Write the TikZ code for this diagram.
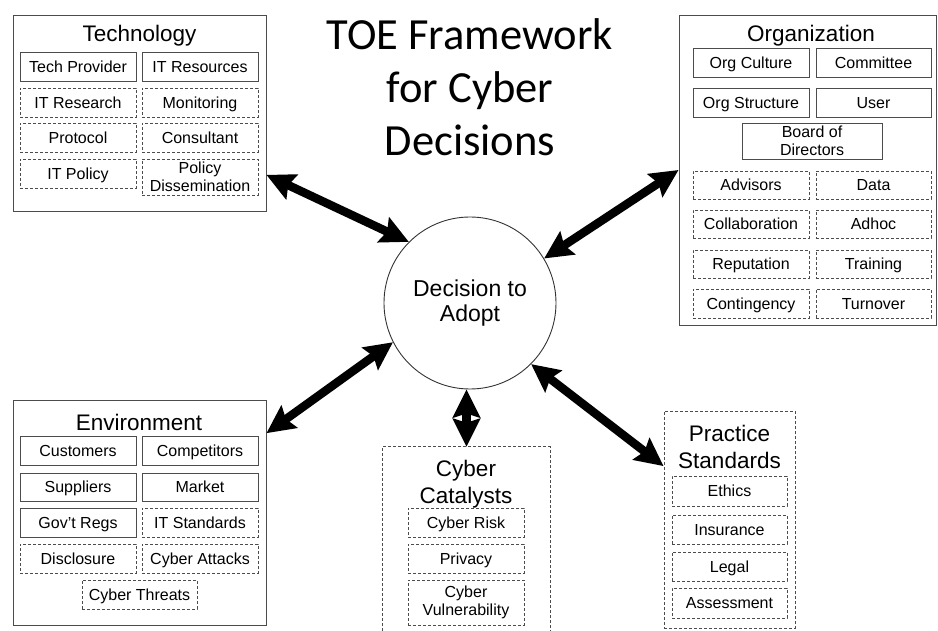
\documentclass[tikz,border=0pt]{standalone}
\usepackage{fontspec}
\setmainfont{Liberation Sans}
\newfontfamily\titlefont{Carlito}
\usetikzlibrary{arrows.meta}
\begin{document}
\begin{tikzpicture}[x=1pt,y=-1pt,
  boxbase/.style={draw=black!70, line width=0.9pt, inner sep=0pt, align=center,
    font=\fontsize{16}{18.5}\selectfont, minimum height=29pt, minimum width=116pt},
  sbox/.style={boxbase, text height=11.5pt, text depth=0pt},
  dbox/.style={sbox, dash pattern=on 3pt off 2pt},
  sboxm/.style={boxbase},
  dboxm/.style={boxbase, dash pattern=on 3pt off 2pt},
  container/.style={draw=black!70, line width=0.9pt, inner sep=0pt},
  dcontainer/.style={container, dash pattern=on 3pt off 2pt},
  sectitle/.style={font=\fontsize{22.5}{27}\selectfont, align=center, inner sep=0pt},
  bigarrow/.style={line width=8.5pt,
    {Stealth[length=28pt,width=27pt,inset=4pt]}-{Stealth[length=28pt,width=27pt,inset=4pt]}},
]
\useasboundingbox (0,0) rectangle (938,631);

% Title
\node[font=\titlefont\fontsize{44.5}{53}\selectfont, align=center, inner sep=0pt] (title) at (470,87) {TOE Framework\\for Cyber\\Decisions};

% Center
\node[draw=black!80, line width=0.9pt, circle, minimum size=172pt, inner sep=0pt, align=center,
  font=\fontsize{23}{25}\selectfont] (dec) at (470,303) {Decision to\\Adopt};

% Technology
\node[container, minimum width=253pt, minimum height=196pt] (tech) at (139.5,113) {};
\node[sectitle] (techt) at (139.5,36) {Technology};
\node[sbox] (t1) at (78,66.5) {Tech Provider};
\node[sbox] (t2) at (200,66.5) {IT Resources};
\node[dbox] (t3) at (78,102.5) {IT Research};
\node[dbox] (t4) at (200,102.5) {Monitoring};
\node[dbox] (t5) at (78,137.5) {Protocol};
\node[dbox] (t6) at (200,137.5) {Consultant};
\node[dbox] (t7) at (78,173.5) {IT Policy};
\node[dboxm, minimum height=36pt] (t8) at (200,177) {Policy\\Dissemination};

% Organization
\node[container, minimum width=257pt, minimum height=310pt] (org) at (807.5,170) {};
\node[sectitle] (orgt) at (811,36) {Organization};
\node[sbox] (o1) at (751,62.5) {Org Culture};
\node[sbox, minimum width=115pt] (o2) at (873.5,62.5) {Committee};
\node[sbox] (o3) at (751,102.5) {Org Structure};
\node[sbox, minimum width=115pt] (o4) at (873.5,102.5) {User};
\node[sboxm, minimum width=140pt, minimum height=36pt] (o5) at (812,141) {Board of\\Directors};
\node[dbox, minimum height=28pt] (o6) at (751,185) {Advisors};
\node[dbox, minimum height=28pt, minimum width=115pt] (o7) at (873.5,185) {Data};
\node[dbox, minimum height=28pt] (o8) at (751,224) {Collaboration};
\node[dbox, minimum height=28pt, minimum width=115pt] (o9) at (873.5,224) {Adhoc};
\node[dbox, minimum height=28pt] (o10) at (751,264) {Reputation};
\node[dbox, minimum height=28pt, minimum width=115pt] (o11) at (873.5,264) {Training};
\node[dbox] (o12) at (751,303.5) {Contingency};
\node[dbox, minimum width=115pt] (o13) at (873.5,303.5) {Turnover};

% Environment
\node[container, minimum width=253pt, minimum height=225pt] (env) at (139.5,512.5) {};
\node[sectitle] (envt) at (139,422) {Environment};
\node[sbox] (e1) at (78,450.5) {Customers};
\node[sbox] (e2) at (200,450.5) {Competitors};
\node[sbox, minimum height=28pt] (e3) at (78,487) {Suppliers};
\node[sbox, minimum height=28pt] (e4) at (200,487) {Market};
\node[sbox] (e5) at (78,522.5) {Gov't Regs};
\node[dbox] (e6) at (200,522.5) {IT Standards};
\node[dbox] (e7) at (78,558.5) {Disclosure};
\node[dbox] (e8) at (200,558.5) {Cyber Attacks};
\node[dbox, minimum width=115pt] (e9) at (139.5,594.5) {Cyber Threats};

% Cyber Catalysts
\node[inner sep=0pt, minimum width=167pt, minimum height=184pt] (cc) at (466.5,539) {};
\draw[dcontainer] (cc.south west) |- (cc.north east) -- (cc.south east);
\node[sectitle] (cct) at (466,484) {Cyber\\Catalysts};
\node[dbox] (c1) at (466,522.5) {Cyber Risk};
\node[dbox] (c2) at (466,558.5) {Privacy};
\node[dboxm, minimum height=45pt] (c3) at (466,602.5) {Cyber\\Vulnerability};

% Practice Standards
\node[dcontainer, minimum width=131pt, minimum height=217pt] (ps) at (729.5,519.5) {};
\node[sectitle] (pst) at (729.5,447) {Practice\\Standards};
\node[dbox, minimum width=115pt, minimum height=30pt] (p1) at (729.5,491) {Ethics};
\node[dbox, minimum width=115pt] (p2) at (729.5,529.5) {Insurance};
\node[dbox, minimum width=115pt] (p3) at (729.5,566.5) {Legal};
\node[dbox, minimum width=115pt, minimum height=30pt] (p4) at (729.5,603) {Assessment};

% Arrows
\draw[bigarrow] (tech.-26.8) -- (dec.135.5);
\draw[bigarrow] (org.west) -- (dec.31.5);
\draw[bigarrow] (env.32.3) -- (dec.207);
\draw[bigarrow] (cc.north) -- (dec.south -| cc.north);
\draw[bigarrow] (ps.141.4) -- (dec.-45.5);
\end{tikzpicture}
\end{document}
